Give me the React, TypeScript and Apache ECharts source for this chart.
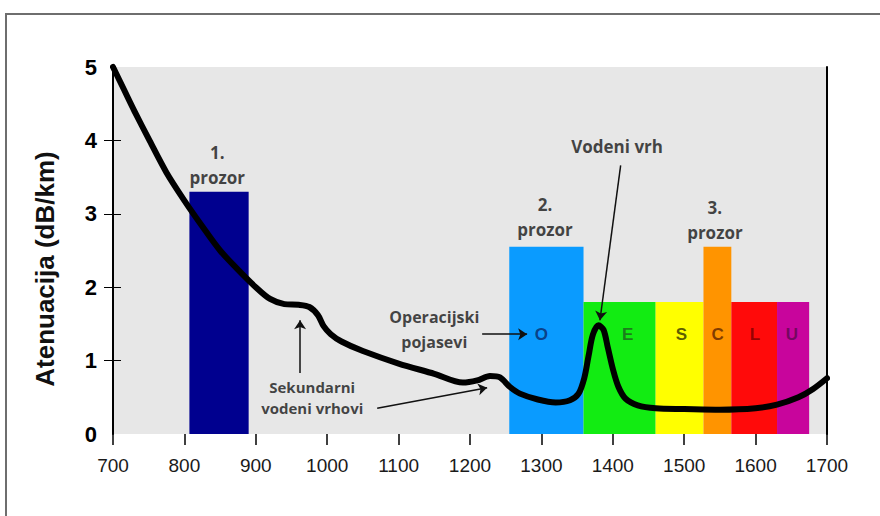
import React, { useEffect, useRef } from "react";
import * as echarts from "echarts";

// Attenuation curve (wavelength nm -> dB/km)
const wavelengths = [700, 715, 730, 750, 775, 800, 825, 850, 875, 900, 920, 940, 960, 975, 987, 995, 1005, 1020, 1050, 1100, 1150, 1190, 1210, 1228, 1242, 1256, 1270, 1295, 1320, 1340, 1352, 1360, 1366, 1372, 1380, 1387, 1393, 1400, 1408, 1418, 1435, 1460, 1500, 1550, 1600, 1630, 1660, 1680, 1700];
const attenuation = [5.0, 4.7, 4.4, 4.02, 3.56, 3.18, 2.83, 2.5, 2.24, 2.0, 1.84, 1.77, 1.76, 1.73, 1.62, 1.47, 1.36, 1.26, 1.13, 0.96, 0.82, 0.7, 0.73, 0.79, 0.77, 0.64, 0.55, 0.47, 0.43, 0.46, 0.55, 0.76, 1.06, 1.35, 1.48, 1.42, 1.18, 0.89, 0.64, 0.48, 0.39, 0.35, 0.34, 0.33, 0.35, 0.4, 0.5, 0.61, 0.76];

// Windows and bands
const bandNames = ["1. prozor", "O", "E", "S", "C", "L", "U"];
const bandStart = [807, 1255, 1359, 1460, 1527, 1566, 1630];
const bandEnd = [890, 1359, 1460, 1527, 1566, 1630, 1675];
const bandTop = [3.3, 2.55, 1.8, 1.8, 2.55, 1.8, 1.8];
const bandColors = ["#00008f", "#0a9bff", "#12ec12", "#ffff00", "#ff9400", "#ff0a0a", "#c8059c"];

// Band letters
const letterText = ["O", "E", "S", "C", "L", "U"];
const letterX = [1300, 1421, 1496, 1547, 1599, 1651];
const letterY = [1.35, 1.35, 1.35, 1.35, 1.35, 1.35];
const letterColors = ["#0b2a6a", "#1f5e1f", "#333300", "#5e2400", "#7a0000", "#5e0850"];

// Annotations
const annoText = ["1.\nprozor", "2.\nprozor", "3.\nprozor", "Vodeni vrh", "Operacijski\npojasevi", "Sekundarni\nvodeni vrhovi"];
const annoX = [846, 1305, 1543, 1406, 1150, 979];
const annoY = [3.67, 2.96, 2.91, 3.92, 1.42, 0.5];
const annoSize = [17, 17, 17, 17, 16, 15];
const annoLineHeight = [25, 25, 25, 20, 25, 21];

// Arrows [from, to] in data coords
const arrowFrom = [[962, 0.83], [1070, 0.35], [1217, 1.36], [1411, 3.66]];
const arrowTo = [[962, 1.55], [1224, 0.63], [1280, 1.36], [1382, 1.55]];

const xTicks = { min: 700, max: 1700, interval: 100 };
const yTicks = { min: 0, max: 5, interval: 1 };

export default function App() {
  const ref = useRef<HTMLDivElement>(null);
  useEffect(() => {
    if (!ref.current) return;
    const chart = echarts.init(ref.current, null, { renderer: "svg" });
    const curve = wavelengths.map((w, i) => [w, attenuation[i]]);
    const bands = bandNames.map((n, i) => ({
      name: n,
      value: [bandStart[i], bandEnd[i], bandTop[i]],
      itemStyle: { color: bandColors[i] },
    }));
    const letters = letterText.map((t, i) => ({
      value: [letterX[i], letterY[i]],
      label: { formatter: t, color: letterColors[i] },
    }));
    const annos = annoText.map((t, i) => ({
      value: [annoX[i], annoY[i]],
      label: { formatter: t, fontSize: annoSize[i], lineHeight: annoLineHeight[i] },
    }));
    const arrows = arrowFrom.map((f, i) => [{ coord: f }, { coord: arrowTo[i] }]);

    chart.setOption({
      animation: false,
      backgroundColor: "#ffffff",
      grid: {
        left: 113,
        right: 53,
        top: 67,
        bottom: 82,
        show: true,
        backgroundColor: "#e7e7e7",
        borderWidth: 0,
      },
      xAxis: {
        type: "value",
        min: xTicks.min,
        max: xTicks.max,
        interval: xTicks.interval,
        axisLine: { show: false },
        axisTick: { show: true, length: 11, lineStyle: { color: "#000", width: 1.5 } },
        axisLabel: {
          fontSize: 19,
          color: "#1a1a1a",
          margin: 22,
          fontFamily: "Liberation Sans",
          formatter: (v: number) => String(v),
        },
        splitLine: { show: false },
      },
      yAxis: [
        {
          type: "value",
          position: "left",
          min: yTicks.min,
          max: yTicks.max,
          interval: yTicks.interval,
          axisLine: { show: true, lineStyle: { color: "#000", width: 2 } },
          axisTick: { show: true, length: 9, customValues: [1, 2, 3, 4], lineStyle: { color: "#000", width: 1 } },
          axisLabel: { fontSize: 22, fontWeight: "bold", color: "#000", margin: 16, fontFamily: "Liberation Sans" },
          splitLine: { show: false },
        },
        {
          type: "value",
          position: "left",
          min: yTicks.min,
          max: yTicks.max,
          interval: yTicks.interval,
          axisLine: { show: false },
          axisTick: { show: true, inside: true, length: 8, customValues: [1, 2, 3, 4], lineStyle: { color: "#000", width: 1 } },
          axisLabel: { show: false },
          splitLine: { show: false },
        },
        {
          type: "value",
          position: "right",
          min: yTicks.min,
          max: yTicks.max,
          interval: yTicks.interval,
          axisLine: { show: true, lineStyle: { color: "#000", width: 2 } },
          axisTick: { show: false },
          axisLabel: { show: false },
          splitLine: { show: false },
        },
      ],
      series: [
        {
          type: "custom",
          name: "bands",
          z: 1,
          data: bands,
          renderItem: (params: any, api: any) => {
            const p0 = api.coord([api.value(0), api.value(2)]);
            const p1 = api.coord([api.value(1), 0]);
            return {
              type: "rect",
              shape: { x: p0[0], y: p0[1], width: p1[0] - p0[0], height: p1[1] - p0[1] },
              style: { fill: api.visual("color") },
            };
          },
          encode: { x: [0, 1], y: 2 },
        },
        {
          type: "line",
          name: "curve",
          z: 3,
          data: curve,
          smooth: 0.3,
          symbol: "none",
          clip: false,
          lineStyle: { color: "#000", width: 6, join: "round", cap: "round" },
          markLine: {
            silent: true,
            symbol: ["none", "arrow"],
            symbolSize: 9,
            label: { show: false },
            lineStyle: { color: "#111", width: 1.5, type: "solid" },
            data: arrows,
          },
        },
        {
          type: "scatter",
          name: "letters",
          z: 4,
          symbolSize: 0,
          data: letters,
          silent: true,
          label: {
            show: true,
            position: "inside",
            fontSize: 17,
            fontWeight: "bold",
            fontFamily: "Liberation Sans",
          },
        },
        {
          type: "scatter",
          name: "annotations",
          z: 5,
          symbolSize: 0,
          data: annos,
          silent: true,
          label: {
            show: true,
            position: "inside",
            fontWeight: "bold",
            fontFamily: "Open Sans",
            color: "#161616",
            align: "center",
          },
        },
      ],
      graphic: [
        {
          type: "rect",
          shape: { x: 6, y: 14, width: 900, height: 600 },
          style: { fill: "none", stroke: "#6e6e6e", lineWidth: 2 },
          z: 100,
        },
        {
          type: "text",
          x: 45,
          y: 269,
          rotation: Math.PI / 2,
          style: {
            text: "Atenuacija (dB/km)",
            fontSize: 26,
            fontWeight: "bold",
            fontFamily: "Liberation Sans",
            fill: "#111",
            align: "center",
            verticalAlign: "middle",
          },
        },
      ],
    });
    return () => chart.dispose();
  }, []);
  return (
    <div
      ref={ref}
      style={{ position: "fixed", left: 0, top: 0, width: 880, height: 516, background: "#fff" }}
    />
  );
}
